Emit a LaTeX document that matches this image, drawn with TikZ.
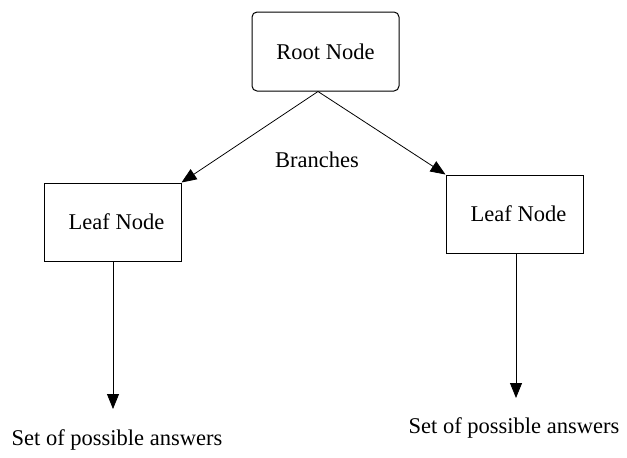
\documentclass[tikz,border=0pt]{standalone}
\usepackage{fontspec}
\setmainfont{Liberation Serif}
\usetikzlibrary{arrows.meta}
\begin{document}
\begin{tikzpicture}[x=1pt,y=-1pt,
  boxnode/.style={draw,line width=1pt,inner sep=0pt,font=\fontsize{22.5}{26}\selectfont},
  lbl/.style={inner sep=0pt,font=\fontsize{22.5}{26}\selectfont},
  conn/.style={line width=0.8pt,-{Triangle[length=15pt,width=12pt]}}]
\useasboundingbox (0,0) rectangle (627,458);
\node[boxnode,rounded corners=5pt,minimum width=147pt,minimum height=79pt] (root) at (325.5,51.5) {Root Node};
\node[boxnode,minimum width=137pt,minimum height=78pt] (leafL) at (112.5,222) {\hspace*{8pt}Leaf Node};
\node[boxnode,minimum width=137pt,minimum height=78pt] (leafR) at (514.5,214) {\hspace*{8pt}Leaf Node};
\coordinate (apex) at (318,91.5);
\draw[conn] (apex) -- (leafL.north east);
\draw[conn] (apex) -- (leafR.north west);
\node[lbl] (br) at (317,160) {Branches};
\coordinate (endL) at (113,409);
\coordinate (endR) at (516,398);
\draw[conn] (leafL.south -| endL) -- (endL);
\draw[conn] (leafR.south -| endR) -- (endR);
\node[lbl] (ansL) at (117,440) {Set of possible answers};
\node[lbl] (ansR) at (514,428) {Set of possible answers};
\end{tikzpicture}
\end{document}
